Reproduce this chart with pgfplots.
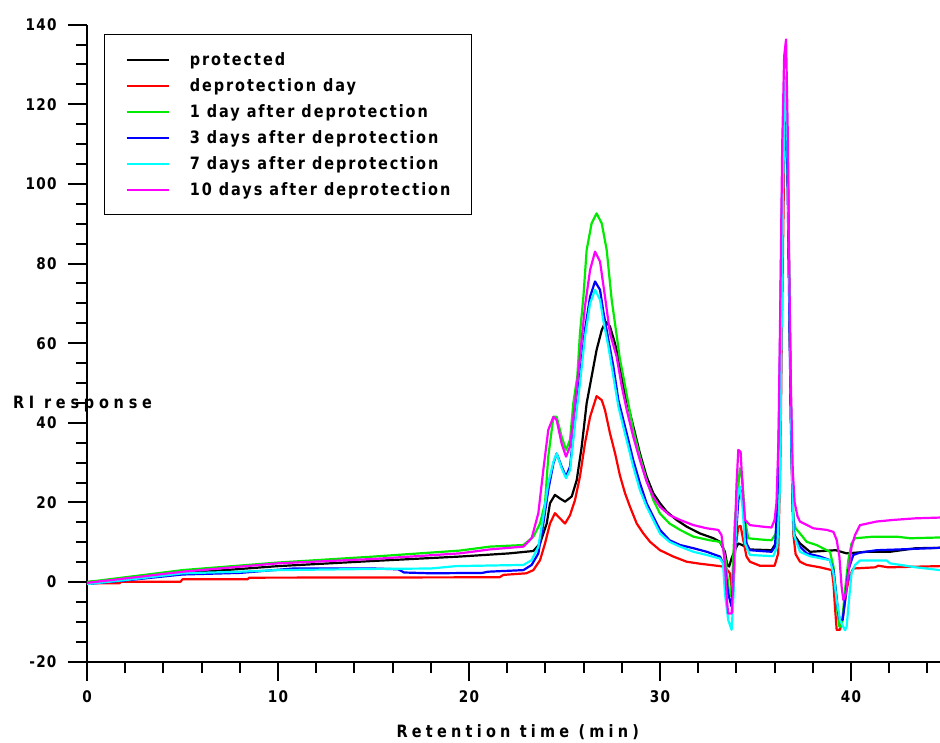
\documentclass[border=0pt]{standalone}
\usepackage{fontspec}
\usepackage{pgfplots}
\pgfplotsset{compat=1.18}
\setmainfont{DejaVu Sans}[FakeStretch=0.85, LetterSpace=8]
\newfontfamily\legfont{DejaVu Sans}[FakeStretch=0.85, LetterSpace=11.5]
\newfontfamily\labfont{DejaVu Sans}[FakeStretch=0.85, LetterSpace=25]
\newfontfamily\ylabfont{DejaVu Sans}[FakeStretch=0.85, LetterSpace=28]
\definecolor{cgreen}{RGB}{0,235,0}
\definecolor{cblue}{RGB}{0,0,255}
\definecolor{ccyan}{RGB}{0,255,255}
\definecolor{cmag}{RGB}{255,0,255}
\definecolor{cred}{RGB}{255,0,0}
\begin{document}
\begin{tikzpicture}
\begin{axis}[
  scale only axis, width=853pt, height=637pt,
  xmin=0, xmax=44.66, ymin=-20, ymax=140,
  axis x line*=bottom, axis y line*=left,
  axis line style={line width=2pt},
  xtick={0,10,20,30,40},
  minor xtick={2,4,6,8,12,14,16,18,22,24,26,28,32,34,36,38,42,44},
  ytick={-20,0,20,40,60,80,100,120,140},
  minor ytick={-15,-10,-5,5,10,15,25,30,35,45,50,55,65,70,75,85,90,95,105,110,115,125,130,135},
  tick align=outside, major tick length=19pt, minor tick length=11pt,
  every tick/.style={black, line width=2pt},
  /pgf/number format/assume math mode=true,
  tick label style={font=\bfseries\fontsize{16}{18}\selectfont},
  yticklabel style={xshift=-8pt},
  xticklabel style={yshift=-6pt},
  xlabel={\labfont\bfseries Retention time (min)},
  ylabel={\ylabfont\bfseries RI response},
  every axis x label/.style={at={(axis description cs:0.505,0)}, anchor=center, yshift=-70pt, font=\fontsize{17}{20}\selectfont},
  every axis y label/.style={at={(axis description cs:0,0.404)}, anchor=center, xshift=-4.5pt, font=\fontsize{17}{20}\selectfont},
  legend style={at={(axis description cs:0.0199,0.985)}, anchor=north west,
    draw=black, line width=1.2pt, inner xsep=21pt, inner ysep=15pt,
    font=\legfont\bfseries\fontsize{17}{20}\selectfont,
    nodes={inner sep=0pt, text height=16pt, text depth=4pt},
    row sep=6pt, column sep=20pt},
  legend cell align=left,
  legend image code/.code={\draw[#1, line width=2.2pt] (0pt,0pt) -- (42pt,0pt);},
  every axis plot/.append style={line width=2.2pt, line join=round},
]
\addplot[black] coordinates {(0,0) (2,0.7) (5,2.2) (10,4.0) (15,5.3) (19.5,6.4) (22.1,7.2) (23.37,7.8) (23.72,9.7) (24.07,14.7) (24.24,19.8) (24.5,21.9) (24.76,21.0) (25.03,20.2) (25.38,21.5) (25.64,25.6) (25.9,34) (26.16,44.9) (26.42,51.6) (26.68,58.3) (26.95,63.3) (27.15,65.4) (27.38,64.2) (27.64,60) (27.9,54.6) (28.17,47.4) (28.43,42.4) (28.69,37.4) (28.95,32.3) (29.3,26.5) (29.65,22.3) (30,19.8) (30.35,17.7) (30.87,15.6) (31.4,13.9) (32.1,12.2) (32.8,11.0) (33.14,10.1) (33.4,7.6) (33.52,4.3) (33.62,3.9) (33.75,6.0) (33.92,8.0) (34.1,9.7) (34.3,9.3) (34.45,8.9) (34.62,8.2) (35.84,8.0) (36.06,9.7) (36.2,20) (36.3,45) (36.4,85) (36.5,112) (36.6,118) (36.7,100) (36.8,60) (36.9,30) (37.0,12) (37.33,9.7) (37.85,7.6) (39.2,8.0) (39.77,7.2) (40.82,7.6) (42.04,7.6) (43.4,8.5) (44.66,8.6)};
\addlegendentry{protected}
\addplot[cred] coordinates {(0,-0.3) (1.7,-0.3) (1.8,0.1) (4.9,0.1) (5,0.7) (8.4,0.7) (8.5,1.1) (21.6,1.2) (21.8,1.8) (23,2.2) (23.37,3.0) (23.72,5.5) (23.98,9.7) (24.24,14.7) (24.5,17.3) (24.76,16.0) (25.03,14.7) (25.29,16.8) (25.55,20.6) (25.81,26.5) (26.07,34.8) (26.34,41.5) (26.68,46.7) (26.95,45.7) (27.12,43.2) (27.38,37.4) (27.65,32.3) (27.9,26.8) (28.17,22.3) (28.43,18.9) (28.78,14.7) (29.13,12.2) (29.48,10.1) (30,8.0) (30.7,6.4) (31.4,5.1) (32.1,4.6) (32.8,4.2) (33.14,4.0) (33.4,3.8) (33.66,2.2) (33.75,-1.5) (33.84,1) (33.92,7.2) (34.1,13.9) (34.22,14.1) (34.36,10.5) (34.53,6.4) (34.71,5.1) (35.23,4.1) (36.0,4.1) (36.19,7.2) (36.3,30) (36.4,70) (36.5,105) (36.6,118) (36.68,110) (36.78,70) (36.88,35) (36.98,12) (37.1,7) (37.33,5.1) (37.68,4.3) (38.38,3.7) (38.99,3.0) (39.08,-0.3) (39.16,-6.2) (39.25,-12) (39.42,-12) (39.56,-9.5) (39.77,-2) (39.91,1.3) (40.12,3.4) (41.26,3.7) (41.43,4.1) (41.96,3.7) (44.66,4.0)};
\addlegendentry{deprotection day}
\addplot[cgreen] coordinates {(0,0) (2,1.2) (5,3.0) (10,4.9) (15,6.4) (19.5,7.9) (21.1,8.9) (22.85,9.3) (23.37,11.4) (23.72,14.7) (23.98,19.8) (24.15,31.5) (24.42,41.5) (24.59,41.5) (24.85,36.5) (25.08,33.2) (25.29,35.7) (25.46,44.9) (25.67,51.6) (25.81,62.5) (25.99,71.7) (26.16,83.4) (26.42,90.1) (26.68,92.6) (26.95,90.1) (27.21,83.4) (27.47,70.9) (27.73,62) (27.9,56) (28.08,51.6) (28.34,44.9) (28.6,38.2) (28.95,31.5) (29.3,25.6) (29.65,20.6) (30,17.2) (30.5,14.7) (31.05,13.1) (31.75,11.4) (32.6,10.5) (33.14,10.1) (33.3,8.9) (33.45,5) (33.6,-2) (33.7,-3.5) (33.8,2) (33.92,15.6) (34.1,24) (34.18,28.6) (34.32,25.6) (34.45,15.6) (34.62,11) (35.23,10.7) (35.84,10.5) (36.07,12.2) (36.2,25) (36.3,55) (36.4,95) (36.5,118) (36.58,122) (36.68,105) (36.78,70) (36.88,35) (36.98,16) (37.1,13.5) (37.33,12.2) (37.68,10.1) (38.2,9.3) (38.73,8.0) (38.9,7.6) (39.08,3.9) (39.2,-2) (39.3,-7.9) (39.39,-11.2) (39.51,-11.2) (39.69,-2) (39.86,5.5) (40.03,9.7) (40.21,11) (41.17,11.4) (42.39,11.4) (43.1,11.0) (44.66,11.2)};
\addlegendentry{1 day after deprotection}
\addplot[cblue] coordinates {(0,-0.5) (2,0.4) (5,1.9) (8,2.3) (10.8,3.4) (15,3.4) (16.3,3.2) (16.6,2.4) (18,2.2) (20.7,2.3) (21,2.6) (22.85,3.0) (23.28,4.3) (23.63,7.2) (23.89,14.7) (24.15,23.1) (24.42,29.8) (24.59,32.3) (24.85,29.0) (25.08,26.5) (25.29,29.0) (25.55,40.7) (25.81,51.6) (26.07,63.3) (26.34,71.7) (26.6,75.5) (26.86,73.4) (27.03,68) (27.3,60.8) (27.56,54.1) (27.82,45.7) (28.08,40.7) (28.34,35.7) (28.6,30.6) (28.95,24.8) (29.3,19.8) (29.65,16.4) (30,13.1) (30.5,10.5) (31.05,9.3) (31.75,8.5) (32.45,7.6) (33.14,6.4) (33.4,3.8) (33.57,-2.9) (33.75,-6.2) (33.92,7.2) (34.1,20.6) (34.22,23.1) (34.36,18.9) (34.53,9.7) (34.71,8.0) (35.84,7.6) (36.02,8.9) (36.15,19.8) (36.25,45) (36.35,85) (36.45,115) (36.55,124) (36.65,110) (36.75,75) (36.85,40) (36.95,18) (37.05,11) (37.33,8.9) (37.68,7.2) (38.38,6.4) (38.9,5.5) (39.08,3) (39.2,-2) (39.34,-7.9) (39.42,-9.5) (39.56,-9.5) (39.69,-4.5) (39.86,3) (40.12,6.8) (40.47,7.4) (41.34,8.0) (42.56,8.2) (44.66,8.6)};
\addlegendentry{3 days after deprotection}
\addplot[ccyan] coordinates {(0,-0.5) (2,0.5) (5,2.2) (8,2.6) (10,3.0) (15,3.3) (18,3.4) (19.3,4.0) (22.85,4.3) (23.28,5.5) (23.63,8.9) (23.89,16.4) (24.15,24.8) (24.42,30.2) (24.59,32.3) (24.85,28.6) (25.08,26.1) (25.29,28.1) (25.55,39.9) (25.81,49.9) (26.07,61.6) (26.34,70) (26.6,73.4) (26.86,70.9) (27.03,65.8) (27.3,59.1) (27.56,51.6) (27.82,44.1) (28.08,39) (28.34,34) (28.6,29) (28.95,23.1) (29.3,18.9) (29.65,15.6) (30,12.2) (30.5,10.1) (31.05,8.9) (31.75,7.6) (32.45,6.8) (33.14,5.9) (33.3,4.7) (33.4,-2.9) (33.57,-9.5) (33.75,-12) (33.84,-4.5) (33.96,11.4) (34.06,21.4) (34.18,24) (34.32,18.9) (34.45,9.7) (34.71,6.8) (35.93,6.5) (36.14,8.9) (36.28,24) (36.36,60) (36.45,100) (36.55,125) (36.62,127) (36.7,100) (36.8,65) (36.9,30) (37.0,12) (37.33,7.6) (37.85,6.5) (38.38,6.0) (38.9,5.5) (39.08,2.2) (39.25,-4.5) (39.42,-9.5) (39.69,-12.1) (39.77,-11.2) (39.91,-3.7) (40.03,2.2) (40.21,4.3) (40.47,5.4) (41.87,5.4) (42.04,4.7) (43.4,3.7) (44.66,3.0)};
\addlegendentry{7 days after deprotection}
\addplot[cmag] coordinates {(0,-0.2) (2,0.9) (5,2.6) (10,4.7) (15,5.8) (19.5,7.2) (21.1,8.2) (22.85,8.9) (23.28,11) (23.63,17.3) (23.89,28.1) (24.15,38.2) (24.42,41.5) (24.59,40.7) (24.85,34.8) (25.08,31.5) (25.29,34) (25.55,44.9) (25.81,56.6) (26.07,69.2) (26.34,78.4) (26.6,83) (26.86,80.5) (27.12,71.7) (27.38,62.5) (27.73,56.6) (28,49.1) (28.26,43.2) (28.6,36.5) (28.95,30.6) (29.3,25.2) (29.65,21.4) (30,18.9) (30.5,16.8) (31.05,15.6) (31.75,14.3) (32.45,13.5) (33.05,13.1) (33.22,11.8) (33.4,4.7) (33.5,-4.5) (33.57,-7.9) (33.75,-7.9) (33.84,-0.3) (33.92,12.2) (34.01,24.8) (34.1,33.2) (34.22,32.7) (34.32,24) (34.45,15.6) (34.71,14.3) (35.4,13.9) (35.84,13.7) (36.0,15.6) (36.1,20) (36.2,35) (36.3,70) (36.4,110) (36.5,132) (36.6,136.3) (36.7,110) (36.75,85) (36.85,50) (36.95,28) (37.05,20) (37.2,16.5) (37.33,15.2) (38.03,13.5) (38.73,13.1) (39.08,12.6) (39.25,10.6) (39.39,6.4) (39.51,-1.2) (39.6,-4.5) (39.74,-2.8) (39.86,2.2) (40.03,8.9) (40.21,11.8) (40.47,14.3) (41.34,15.2) (42.2,15.6) (43.35,16.0) (44.66,16.2)};
\addlegendentry{10 days after deprotection}
\coordinate (BL) at (axis cs:-4.555,-40.2);
\coordinate (TR) at (axis cs:44.66,146.2);
\end{axis}
\pgfresetboundingbox
\path[use as bounding box] (BL) rectangle (TR);
\end{tikzpicture}
\end{document}
